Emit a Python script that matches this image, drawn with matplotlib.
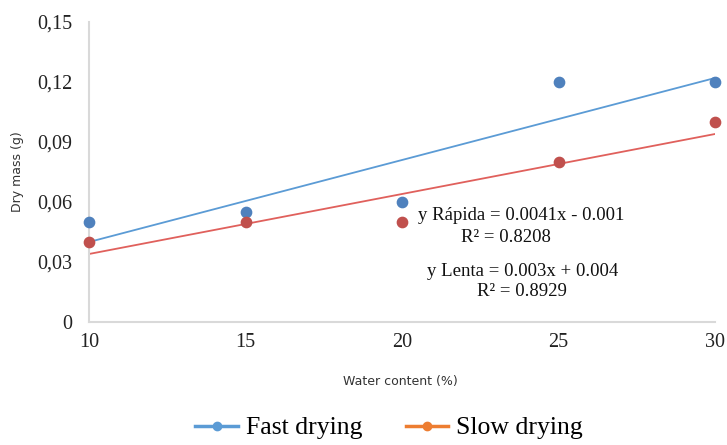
import numpy as np
import matplotlib
matplotlib.use('Agg')
import matplotlib.pyplot as plt
from matplotlib.lines import Line2D
from matplotlib.ticker import FuncFormatter

# water content (%) and dry mass (g)
water = [10, 15, 20, 25, 30]
fast = [0.05, 0.055, 0.06, 0.12, 0.12]
slow = [0.04, 0.05, 0.05, 0.08, 0.10]
yticks = [0, 0.03, 0.06, 0.09, 0.12, 0.15]

W, H = 727, 445
fig = plt.figure(figsize=(W / 100, H / 100), dpi=100)
ax = fig.add_axes([89 / W, 1 - 322 / H, (715 - 89) / W, 300 / H])

# linear trend lines (Excel style, x coded 1..n)
xi = np.arange(1, len(water) + 1)
pf = np.polyfit(xi, fast, 1)
ps = np.polyfit(xi, slow, 1)
ax.plot(water, np.polyval(pf, xi), color='#5B9BD5', lw=1.3, zorder=2)
ax.plot(water, np.polyval(ps, xi), color='#E0605C', lw=1.3, zorder=2)
ax.scatter(water, fast, s=55, color='#4F81BD', zorder=3, clip_on=False)
ax.scatter(water, slow, s=55, color='#C0504D', zorder=3, clip_on=False)

ax.set_xlim(10, 30)
ax.set_ylim(0, 0.15)
ax.set_xticks(water)
ax.set_yticks(yticks)
ax.yaxis.set_major_formatter(FuncFormatter(lambda v, p: '0' if v == 0 else f'{v:.2f}'.replace('.', ',')))
for s in ['top', 'right']:
    ax.spines[s].set_visible(False)
for s in ['left', 'bottom']:
    ax.spines[s].set_color('#D9D9D9')
    ax.spines[s].set_linewidth(1.5)
ax.tick_params(length=0, labelsize=14.5)
ax.tick_params(axis='y', pad=12)
ax.tick_params(axis='x', pad=8)
for lab in ax.get_xticklabels() + ax.get_yticklabels():
    lab.set_family('Liberation Serif')
    lab.set_color('#222222')

fig.text(18 / W, 1 - 172 / H, 'Dry mass (g)', rotation=90, ha='center', va='center',
         fontsize=9, family='DejaVu Sans', color='#333333')
fig.text(400 / W, 1 - 381 / H, 'Water content (%)', ha='center', va='center',
         fontsize=9, family='DejaVu Sans', color='#333333')

serif = dict(family='Liberation Serif', fontsize=13.5, color='#111111', va='center')
fig.text(418 / W, 1 - 216 / H, 'y Rápida = 0.0041x - 0.001', ha='left', **serif)
fig.text(506 / W, 1 - 237 / H, 'R² = 0.8208', ha='center', **serif)
fig.text(523 / W, 1 - 271 / H, 'y Lenta = 0.003x + 0.004', ha='center', **serif)
fig.text(522 / W, 1 - 292 / H, 'R² = 0.8929', ha='center', **serif)

handles = [Line2D([], [], color='#5B9BD5', lw=2.5, marker='o', ms=6),
           Line2D([], [], color='#ED7D31', lw=2.5, marker='o', ms=6)]
fig.legend(handles, ['Fast drying', 'Slow drying'], loc='center',
           bbox_to_anchor=(389 / W, 1 - 428 / H), ncol=2, frameon=False,
           prop={'family': 'Liberation Serif', 'size': 18.5}, handlelength=1.65,
           handletextpad=0.3, columnspacing=1.7)

fig.savefig('out.png', dpi=100)
